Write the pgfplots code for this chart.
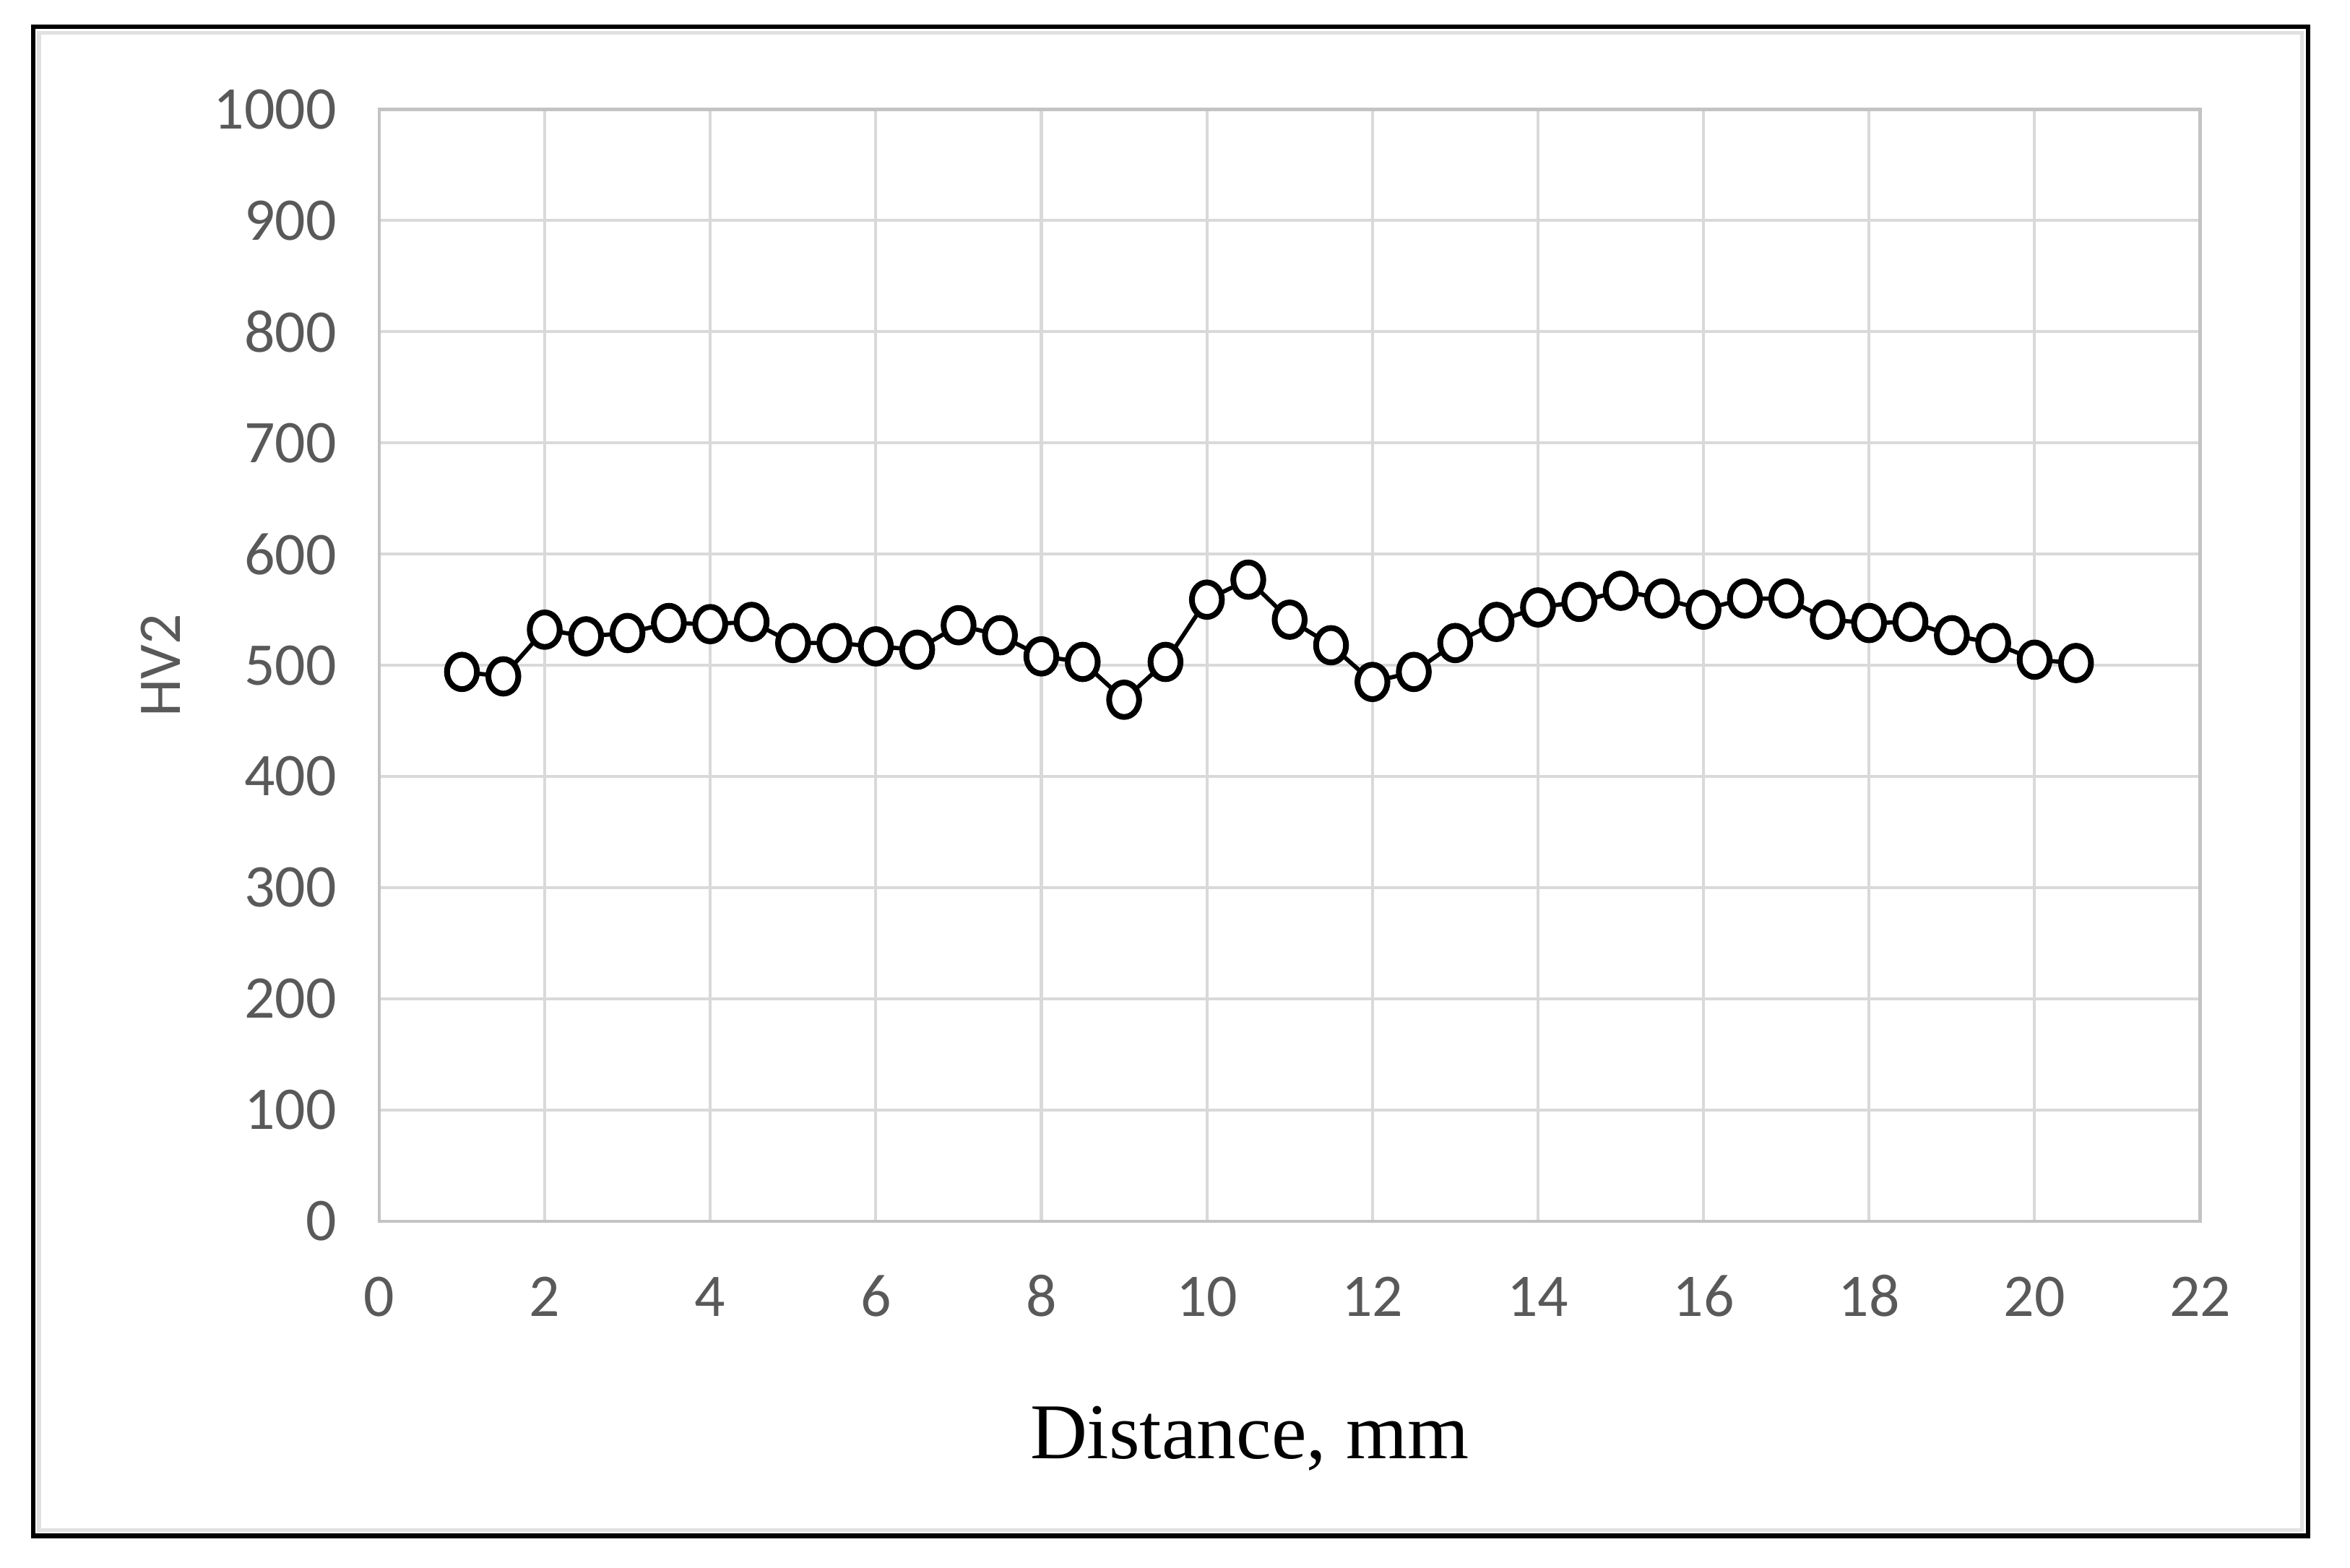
\documentclass[border=0pt]{standalone}
\usepackage{fontspec}
\setmainfont{Carlito}
\newfontfamily\timesfont{Liberation Serif}
\usepackage{pgfplots}
\pgfplotsset{compat=1.18}
\definecolor{ticktext}{HTML}{595959}
\definecolor{gridgray}{HTML}{D9D9D9}

\pgfplotstableread{
x    hv
1    494
1.5  490
2    532
2.5  526
3    529
3.5  538
4    537
4.5  539
5    520
5.5  520
6    517
6.5  514
7    536
7.5  527
8    508
8.5  503
9    469
9.5  503
10   559
10.5 577
11   541
11.5 518
12   485
12.5 494
13   520
13.5 539
14   552
14.5 557
15   567
15.5 560
16   550
16.5 560
17   560
17.5 541
18   538
18.5 539
19   527
19.5 520
20   505
20.5 502
}\hvdata

\begin{document}
\begin{tikzpicture}
\path[use as bounding box] (0,0) rectangle (156.8mm,104.6mm);
\fill[white] (0,0) rectangle (156.8mm,104.6mm);
% outer frame
\draw[gridgray!80, line width=0.25mm] (2.6mm,2.5mm) rectangle (153.6mm,102.4mm);
\draw[black, line width=0.3mm] (2.2mm,2.1mm) rectangle (154.0mm,102.8mm);
\begin{axis}[
  at={(25.3mm,23.1mm)}, anchor=south west,
  scale only axis, width=121.5mm, height=74.2mm,
  xmin=0, xmax=22, ymin=0, ymax=1000,
  xtick={0,2,...,22}, ytick={0,100,...,1000},
  grid=major, grid style={gridgray, line width=0.55pt},
  axis line style={gridgray!90!black, line width=0.6pt},
  tick style={draw=none},
  /pgf/number format/assume math mode=true,
  /pgf/number format/1000 sep={},
  ticklabel style={font=\fontsize{11.5}{13}\selectfont, text=ticktext},
  yticklabel style={xshift=-1.6mm},
  xticklabel style={yshift=-2.4mm, text height=1.6ex, text depth=0pt},
  ylabel={HV2},
  ylabel style={font=\fontsize{11.5}{13}\selectfont, text=ticktext, at={(axis description cs:-0.12,0.5)}, anchor=center},
  xlabel={Distance, mm},
  xlabel style={font=\timesfont\fontsize{15}{18}\selectfont, text=black, at={(axis description cs:0.478,0)}, yshift=-14.5mm, anchor=center},
  clip=false]
\addplot[black, line width=0.8pt, mark=*, mark size=1.0mm,
  mark options={draw=black, fill=white, line width=1.1pt, yscale=1.15}] table[x=x, y=hv] {\hvdata};
\end{axis}
\end{tikzpicture}
\end{document}
